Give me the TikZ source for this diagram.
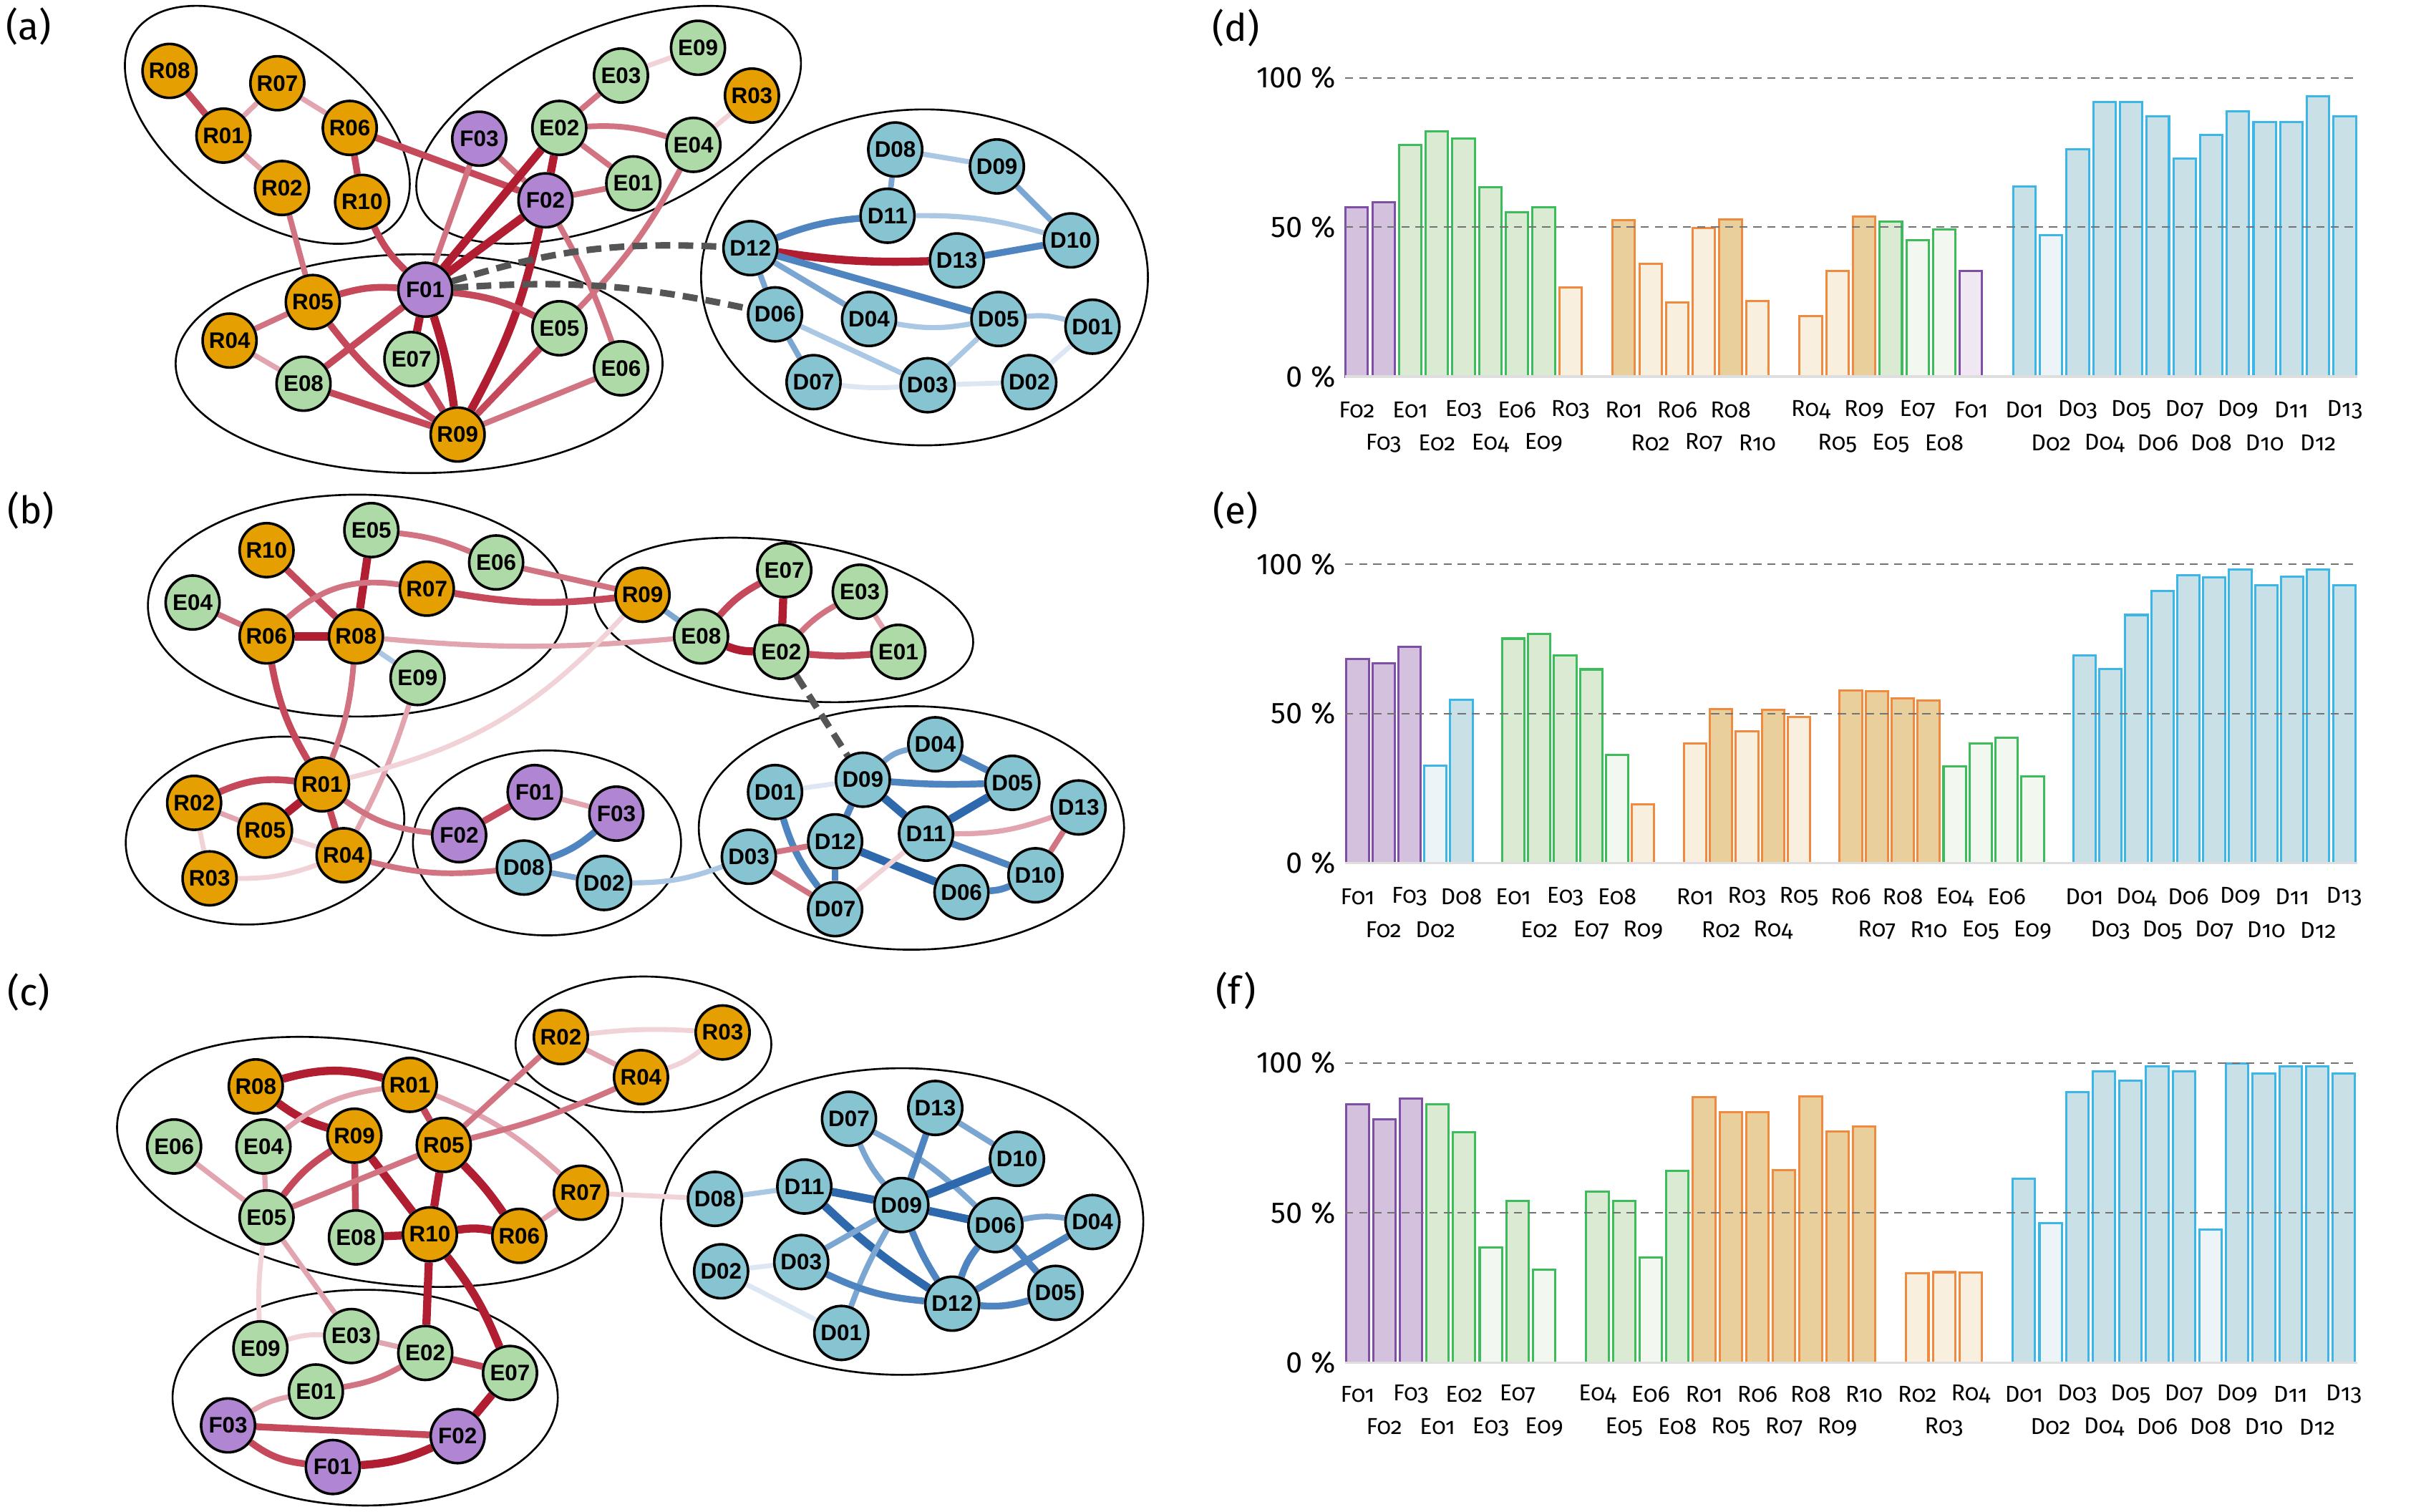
\documentclass[tikz,border=0pt]{standalone}
\usepackage{fontspec}
\setmainfont{Fira Sans}
\newfontfamily\nodefont{Liberation Sans}
\newfontfamily\oldnum[Numbers=OldStyle]{Fira Sans}

\definecolor{nodeR}{HTML}{E69F00}
\definecolor{nodeE}{HTML}{ADDAA6}
\definecolor{nodeF}{HTML}{B085D2}
\definecolor{nodeD}{HTML}{86C4D2}
\definecolor{redA}{HTML}{B11E32}
\definecolor{redB}{HTML}{C5495B}
\definecolor{redC}{HTML}{D27382}
\definecolor{redD}{HTML}{E2A4AE}
\definecolor{redE}{HTML}{F0D2D7}
\definecolor{bluA}{HTML}{2E69AD}
\definecolor{bluB}{HTML}{4E84BF}
\definecolor{bluC}{HTML}{7BA6D2}
\definecolor{bluD}{HTML}{AAC7E3}
\definecolor{bluE}{HTML}{DCE7F3}
\definecolor{dashgray}{HTML}{555555}
\definecolor{barP}{HTML}{7E4FA5}
\definecolor{barPs}{HTML}{D3C1DD}
\definecolor{barPw}{HTML}{EFE8F2}
\definecolor{barG}{HTML}{3CBC5B}
\definecolor{barGs}{HTML}{DAEAD3}
\definecolor{barGw}{HTML}{F2F7EF}
\definecolor{barO}{HTML}{F08A3F}
\definecolor{barOs}{HTML}{E9CF9B}
\definecolor{barOw}{HTML}{F9EFDE}
\definecolor{barB}{HTML}{3BB6E6}
\definecolor{barBs}{HTML}{C8E0E6}
\definecolor{barBw}{HTML}{ECF4F7}

\pgfdeclarelayer{back}
\pgfdeclarelayer{mid}
\pgfsetlayers{back,mid,main}

\begin{document}
\begin{tikzpicture}[%
  x = 0.02cm, y = -0.02cm,
  vtx/.style = {circle, draw, line width = 0.95pt, inner sep = 0pt, minimum size = 0.7cm,
    font = \nodefont\bfseries\fontsize{8.3}{9}\selectfont},
  rnode/.style = {vtx, fill = nodeR},
  enode/.style = {vtx, fill = nodeE},
  fnode/.style = {vtx, fill = nodeF},
  dnode/.style = {vtx, fill = nodeD},
  rA/.style = {draw = redA, line width = 3pt},
  rB/.style = {draw = redB, line width = 2.5pt},
  rC/.style = {draw = redC, line width = 2.1pt},
  rD/.style = {draw = redD, line width = 1.9pt},
  rE/.style = {draw = redE, line width = 1.8pt},
  bA/.style = {draw = bluA, line width = 3pt},
  bB/.style = {draw = bluB, line width = 2.5pt},
  bC/.style = {draw = bluC, line width = 2.1pt},
  bD/.style = {draw = bluD, line width = 1.9pt},
  bE/.style = {draw = bluE, line width = 1.8pt},
  gd/.style = {draw = dashgray, line width = 2.4pt, dash pattern = on 5.5pt off 3pt},
  grp/.style = {draw, line width = 0.7pt},
  pS/.style = {draw = barP, fill = barPs, line width = 0.8pt},
  pW/.style = {draw = barP, fill = barPw, line width = 0.8pt},
  gS/.style = {draw = barG, fill = barGs, line width = 0.8pt},
  gW/.style = {draw = barG, fill = barGw, line width = 0.8pt},
  oS/.style = {draw = barO, fill = barOs, line width = 0.8pt},
  oW/.style = {draw = barO, fill = barOw, line width = 0.8pt},
  bS/.style = {draw = barB, fill = barBs, line width = 0.8pt},
  bW/.style = {draw = barB, fill = barBw, line width = 0.8pt},
  barlab/.style = {font = \oldnum\fontsize{8.5}{9}\selectfont, inner sep = 0pt},
  ticklab/.style = {font = \fontsize{11}{12}\selectfont, anchor = east, inner sep = 0pt},
  panel/.style = {font = \fontsize{14}{16}\selectfont, inner sep = 0pt},
  gridln/.style = {draw = black!55, line width = 0.6pt, dash pattern = on 3pt off 2.2pt},
  baseln/.style = {draw = black!13, line width = 1pt}]
  \useasboundingbox (0,0) rectangle (1568,981);

  % panel letters
  \node[panel] (la) at (18.5,17) {(a)};
  \node[panel] (lb) at (20,331) {(b)};
  \node[panel] (lc) at (18.5,644) {(c)};
  \node[panel] (ld) at (802,18) {(d)};
  \node[panel] (le) at (802,331) {(e)};
  \node[panel] (lf) at (802,643) {(f)};

  % ---------- (a) ----------
  \foreach \n/\x/\y in {R08/110/46, R07/180/54, R01/145/88, R06/227/83, R02/183/122,
      R10/235/131, R03/488/62, R05/203/196, R04/149/221, R09/297/282}
    \node[rnode] (a\n) at (\x,\y) {\n};
  \foreach \n/\x/\y in {E02/363/83, E03/403/49, E09/453/31, E04/450/94, E01/411/119,
      E08/197/249, E07/267/233, E05/363/213, E06/403/239}
    \node[enode] (a\n) at (\x,\y) {\n};
  \foreach \n/\x/\y in {F03/311/90, F02/354/130, F01/276/188}
    \node[fnode] (a\n) at (\x,\y) {\n};
  \foreach \n/\x/\y in {D08/581/97, D09/647/108, D11/576/140, D10/695/156, D12/487/161,
      D13/621/169, D06/503/204, D04/564/207, D05/648/207, D01/709/212, D07/528/248,
      D03/602/250, D02/668/248}
    \node[dnode] (a\n) at (\x,\y) {\n};

  % ---------- (b) ----------
  \foreach \n/\x/\y in {R10/173/357, R07/277/382, R06/173/413, R08/231/413, R01/209/509,
      R02/126/521, R05/172/539, R04/223/555, R03/136/570, R09/417/386}
    \node[rnode] (b\n) at (\x,\y) {\n};
  \foreach \n/\x/\y in {E05/241/344, E06/322/365, E04/125/391, E09/271/440, E07/509/370,
      E03/558/384, E08/455/413, E02/507/423, E01/583/423}
    \node[enode] (b\n) at (\x,\y) {\n};
  \foreach \n/\x/\y in {F01/347/514, F03/400/528, F02/298/542}
    \node[fnode] (b\n) at (\x,\y) {\n};
  \foreach \n/\x/\y in {D08/340/563, D02/392/573, D04/607/483, D09/560/506, D05/657/508,
      D01/503/514, D13/700/524, D11/601/541, D12/542/546, D03/486/556, D10/672/568,
      D06/624/579, D07/542/590}
    \node[dnode] (b\n) at (\x,\y) {\n};

  % ---------- (c) ----------
  \foreach \n/\x/\y in {R08/166/705, R01/266/704, R09/230/737, R05/288/743, R07/377/774,
      R10/279/801, R06/337/802, R02/364/673, R04/416/699, R03/469/670}
    \node[rnode] (c\n) at (\x,\y) {\n};
  \foreach \n/\x/\y in {E06/113/744, E04/171/744, E05/173/790, E08/231/803, E09/169/875,
      E03/228/867, E02/276/878, E07/331/891, E01/205/903}
    \node[enode] (c\n) at (\x,\y) {\n};
  \foreach \n/\x/\y in {F03/148/925, F02/297/932, F01/216/952}
    \node[fnode] (c\n) at (\x,\y) {\n};
  \foreach \n/\x/\y in {D07/551/726, D13/607/719, D10/660/752, D08/464/778, D11/522/770,
      D09/585/782, D06/646/795, D04/709/793, D02/468/825, D03/520/819, D12/618/846,
      D05/685/839, D01/546/865}
    \node[dnode] (c\n) at (\x,\y) {\n};

  % groups
  \begin{pgfonlayer}{back}
    \fill[white] (0,0) rectangle (1568,981);
    \draw[grp, rotate around = {-35:(173.5,81)}] (173.5,81) ellipse [x radius = 105, y radius = 59];
    \draw[grp, rotate around = {23:(395,81)}] (395,81) ellipse [x radius = 133, y radius = 62];
    \draw[grp] (272,236) ellipse [x radius = 158, y radius = 71];
    \draw[grp] (600,180) ellipse [x radius = 145, y radius = 109];
    \draw[grp] (232,393) ellipse [x radius = 136, y radius = 72];
    \draw[grp, rotate around = {-8:(508.6,402.3)}] (508.6,402.3) ellipse [x radius = 124, y radius = 51];
    \draw[grp, rotate around = {9:(172,539)}] (172,539) ellipse [x radius = 91, y radius = 60];
    \draw[grp] (355,547) ellipse [x radius = 87, y radius = 60];
    \draw[grp] (591.5,537.3) ellipse [x radius = 138, y radius = 79];
    \draw[grp, rotate around = {-10:(240,754)}] (240,754) ellipse [x radius = 166, y radius = 77];
    \draw[grp] (417.6,677.7) ellipse [x radius = 83, y radius = 44];
    \draw[grp] (237,907) ellipse [x radius = 125, y radius = 70];
    \draw[grp] (585.5,792.7) ellipse [x radius = 156.5, y radius = 99.5];
  \end{pgfonlayer}

  % links
  \begin{pgfonlayer}{mid}
    \foreach \u/\v/\s/\b in {R08/R01/rB/0, R01/R07/rD/0, R07/R06/rD/0, R01/R02/rD/0,
        R06/R10/rB/0, R06/F02/rB/0, R02/R05/rC/0, R10/F01/rB/-10, F03/F01/rC/0,
        F03/F02/rC/0, E02/F01/rA/0, E02/F02/rA/0, E03/E02/rC/0, E02/E04/rC/10,
        E02/E01/rC/0, F02/E01/rC/0, F02/F01/rA/0, F02/R09/rA/8, F02/E06/rC/5,
        E04/E05/rC/8, R05/F01/rB/10, F01/E05/rB/10, F01/E08/rB/0, F01/E07/rA/0,
        F01/R09/rA/5, R05/R04/rC/0, R05/R09/rB/-10, R04/E08/rD/0, E08/R09/rB/0,
        E07/R09/rB/0, E05/R09/rB/0, E06/R09/rC/0, E03/E09/rE/0, E04/R03/rE/0,
        D08/D09/bD/0, D08/D11/bC/0, D09/D10/bC/0, D11/D10/bD/8, D12/D11/bB/8,
        D12/D13/rA/-5, D13/D10/bB/0, D12/D05/bB/0, D12/D04/bC/0, D12/D06/bC/0,
        D06/D07/bC/0, D06/D03/bD/0, D04/D05/bD/-10, D05/D01/bD/10, D05/D03/bD/0,
        D07/D03/bE/-5, D03/D02/bE/0, D02/D01/bE/0, F01/D12/gd/10, F01/D06/gd/8}
      \draw[\s] (a\u) to[bend left = \b] (a\v);

    \foreach \u/\v/\s/\b in {E04/R06/rC/0, R10/R08/rB/0, R06/R08/rA/0, E05/R08/rA/0,
        R06/R07/rC/25, R07/R09/rB/-8, E05/E06/rC/8, E06/R09/rC/0, R08/E08/rD/-5,
        R08/E09/bD/0, R06/R01/rB/-10, R08/R01/rC/8, E09/R04/rD/5, R09/R01/rE/17,
        R02/R01/rB/15, R01/R05/rA/0, R01/R04/rB/0, R02/R05/rD/0, R02/R03/rE/0,
        R05/R04/rE/0, R03/R04/rE/-10, R01/F02/rC/-15, F02/F01/rB/0, F01/F03/rD/0,
        F03/D08/bB/10, D08/D02/bC/0, R04/D08/rC/-10, D02/D03/bD/-10, R09/E08/bC/0,
        E08/E07/rB/10, E07/E02/rA/0, E08/E02/rA/-10, E02/E03/rC/8, E03/E01/rD/0,
        E02/E01/rB/-5, D09/D04/bC/15, D04/D05/bB/0, D09/D05/bB/-3, D01/D09/bE/0,
        D09/D12/bB/0, D09/D11/bA/0, D05/D11/bA/0, D11/D13/rD/-10, D13/D10/rC/0,
        D11/D10/bB/0, D12/D06/bA/0, D06/D10/bB/-10, D01/D07/bB/-10, D12/D07/bB/0,
        D03/D12/rC/0, D03/D07/rC/0, D11/D07/rE/0, E02/D09/gd/0}
      \draw[\s] (b\u) to[bend left = \b] (b\v);

    \foreach \u/\v/\s/\b in {R08/R01/rA/15, R08/R09/rA/-10, R01/E04/rD/-15, R01/R05/rB/0,
        R01/R07/rD/10, R09/E05/rB/-10, R09/E08/rB/0, R09/R10/rA/0, R05/E05/rC/0,
        R05/R02/rC/0, R05/R04/rC/-5, R05/R10/rA/0, R05/R06/rA/5, E06/E05/rD/0,
        E04/E05/rD/0, E08/R10/rA/0, R10/R06/rA/10, R06/R07/rD/0, R10/E02/rA/0,
        R10/E07/rA/8, E05/E09/rE/-5, E05/E03/rD/0, E09/E03/rE/10, E03/E02/rD/0,
        E02/E07/rB/0, E02/E01/rC/10, E01/F03/rD/-10, E07/F02/rA/0, F03/F02/rB/0,
        F03/F01/rB/-15, F01/F02/rA/-10, R02/R04/rD/0, R02/R03/rE/5, R04/R03/rE/-10,
        R07/D08/rE/0, D08/D11/bD/0, D11/D09/bA/0, D11/D12/bA/-5, D07/D09/bC/-8,
        D07/D06/bC/8, D13/D09/bB/0, D13/D10/bC/0, D10/D09/bA/0, D09/D06/bA/0,
        D09/D03/bC/0, D09/D01/bC/-5, D09/D12/bB/-5, D06/D04/bC/10, D06/D12/bB/-10,
        D06/D05/bB/0, D04/D12/bB/0, D03/D12/bB/-10, D12/D05/bB/-10, D02/D03/bE/0,
        D02/D01/bE/0}
      \draw[\s] (c\u) to[bend left = \b] (c\v);
  \end{pgfonlayer}

  % ---------- (d) ----------
  \foreach \l/\s/\v/\st/\r in {F02/0/56.7/pS/0, F03/1/58.3/pS/1, E01/2/77.5/gS/0,
      E02/3/82.1/gS/1, E03/4/79.7/gS/0, E04/5/63.5/gS/1, E06/6/55.1/gS/0, E09/7/56.7/gS/1,
      R03/8/29.9/oW/0, R01/10/52.5/oS/0, R02/11/37.8/oW/1, R06/12/24.9/oW/0,
      R07/13/49.8/oW/1, R08/14/52.6/oS/0, R10/15/25.4/oW/1, R04/17/20.2/oW/0,
      R05/18/35.3/oW/1, R09/19/53.7/oS/0, E05/20/51.8/gS/1, E07/21/45.7/gW/0,
      E08/22/49.2/gW/1, F01/23/35.5/pW/0, D01/25/63.7/bS/0, D02/26/47.3/bW/1,
      D03/27/76.0/bS/0, D04/28/91.9/bS/1, D05/29/92.0/bS/0, D06/30/87.2/bS/1,
      D07/31/72.9/bS/0, D08/32/80.9/bS/1, D09/33/88.7/bS/0, D10/34/85.1/bS/1,
      D11/35/85.2/bS/0, D12/36/93.8/bS/1, D13/37/87.1/bS/0}{
    \draw[\st] ({873.3+17.33*\s},244.5) rectangle ++(14.5,{-1.94*\v});
    \node[barlab] (d\l) at ({880.55+17.33*\s},{266+21.5*\r}) {\l};
  }
  \draw[baseln] (873,244.5) -- (1530,244.5);
  \draw[gridln] (873,147.3) -- (1530,147.3);
  \draw[gridln] (873,50.5) -- (1530,50.5);
  \node[ticklab] (dt100) at (867,50.5) {100~\%};
  \node[ticklab] (dt50) at (867,147.3) {50~\%};
  \node[ticklab] (dt0) at (867,244.5) {0~\%};

  % ---------- (e) ----------
  \foreach \l/\s/\v/\st/\r in {F01/0/68.3/pS/0, F02/1/66.8/pS/1, F03/2/72.4/pS/0,
      D02/3/32.7/bW/1, D08/4/54.7/bS/0, E01/6/75.1/gS/0, E02/7/76.6/gS/1,
      E03/8/69.4/gS/0, E07/9/64.8/gS/1, E08/10/36.3/gW/0, R09/11/19.6/oW/1,
      R01/13/40.0/oW/0, R02/14/51.4/oS/1, R03/15/44.0/oW/0, R04/16/51.2/oS/1,
      R05/17/48.9/oW/0, R06/19/57.8/oS/0, R07/20/57.5/oS/1, R08/21/55.2/oS/0,
      R10/22/54.4/oS/1, E04/23/32.3/gW/0, E05/24/40.1/gW/1, E06/25/42.0/gW/0,
      E09/26/29.1/gW/1, D01/28/69.5/bS/0, D03/29/64.9/bS/1, D04/30/83.0/bS/0,
      D05/31/91.0/bS/1, D06/32/96.4/bS/0, D07/33/95.5/bS/1, D09/34/98.1/bS/0,
      D10/35/93.0/bS/1, D11/36/95.8/bS/0, D12/37/98.3/bS/1, D13/38/93.0/bS/0}{
    \draw[\st] ({873.8+16.85*\s},560.1) rectangle ++(14.5,{-1.94*\v});
    \node[barlab] (e\l) at ({881.05+16.85*\s},{582+21.5*\r}) {\l};
  }
  \draw[baseln] (873,560.1) -- (1530,560.1);
  \draw[gridln] (873,463.1) -- (1530,463.1);
  \draw[gridln] (873,366.1) -- (1530,366.1);
  \node[ticklab] (et100) at (867,366.1) {100~\%};
  \node[ticklab] (et50) at (867,463.1) {50~\%};
  \node[ticklab] (et0) at (867,560.1) {0~\%};

  % ---------- (f) ----------
  \foreach \l/\s/\v/\st/\r in {F01/0/86.3/pS/0, F02/1/81.3/pS/1, F03/2/88.2/pS/0,
      E01/3/86.3/gS/1, E02/4/77.0/gS/0, E03/5/38.5/gW/1, E07/6/54.0/gS/0,
      E09/7/31.1/gW/1, E04/9/57.0/gS/0, E05/10/54.0/gS/1, E06/11/35.1/gW/0,
      E08/12/64.1/gS/1, R01/13/88.6/oS/0, R05/14/83.6/oS/1, R06/15/83.5/oS/0,
      R07/16/64.2/oS/1, R08/17/88.8/oS/0, R09/18/77.1/oS/1, R10/19/78.9/oS/0,
      R02/21/29.9/oW/0, R03/22/30.2/oW/1, R04/23/30.0/oW/0, D01/25/61.4/bS/0,
      D02/26/46.6/bW/1, D03/27/90.3/bS/0, D04/28/97.1/bS/1, D05/29/94.0/bS/0,
      D06/30/98.8/bS/1, D07/31/97.3/bS/0, D08/32/44.4/bW/1, D09/33/99.8/bS/0,
      D10/34/96.4/bS/1, D11/35/98.9/bS/0, D12/36/98.9/bS/1, D13/37/96.4/bS/0}{
    \draw[\st] ({873.8+17.3*\s},884.3) rectangle ++(14.5,{-1.945*\v});
    \node[barlab] (f\l) at ({881.05+17.3*\s},{904.8+21.1*\r}) {\l};
  }
  \draw[baseln] (873,884.3) -- (1530,884.3);
  \draw[gridln] (873,787.1) -- (1530,787.1);
  \draw[gridln] (873,689.8) -- (1530,689.8);
  \node[ticklab] (ft100) at (867,689.8) {100~\%};
  \node[ticklab] (ft50) at (867,787.1) {50~\%};
  \node[ticklab] (ft0) at (867,884.3) {0~\%};
\end{tikzpicture}
\end{document}
